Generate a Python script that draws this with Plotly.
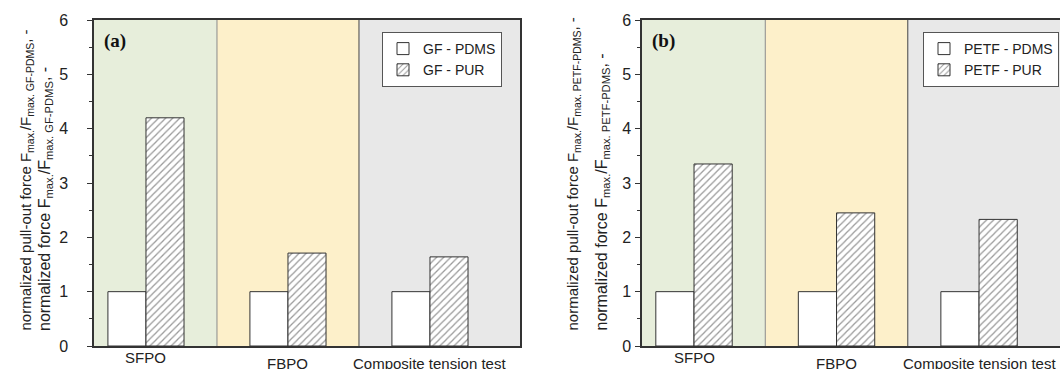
import plotly.graph_objects as go

# Normalized maximum forces, PUR matrix relative to PDMS matrix
categories = ["SFPO", "FBPO", "Composite tension test"]
x_pos = [0, 1, 2]
gf_pdms = [1.0, 1.0, 1.0]
gf_pur = [4.2, 1.71, 1.64]
petf_pdms = [1.0, 1.0, 1.0]
petf_pur = [3.35, 2.45, 2.33]
y_ticks = [0, 1, 2, 3, 4, 5, 6]

W, H = 1060, 369
FONT = "Liberation Sans, Arial, sans-serif"
TXT = "#222222"
BAR_W = 0.268

region_colors = ["#E7EEDB", "#FDF0CA", "#E8E8E8"]
divider_colors = ["#8a8a8a", "#444444"]

fig = go.Figure()


def add_pair(pdms, pur, name_pdms, name_pur, xa, ya, legend):
    fig.add_trace(go.Bar(
        x=x_pos, y=pdms, name=name_pdms, xaxis=xa, yaxis=ya, legend=legend,
        width=BAR_W, offset=-BAR_W,
        marker=dict(color="white", line=dict(color="#333333", width=1)),
    ))
    fig.add_trace(go.Bar(
        x=x_pos, y=pur, name=name_pur, xaxis=xa, yaxis=ya, legend=legend,
        width=BAR_W, offset=0,
        marker=dict(color="white", line=dict(color="#333333", width=1),
                    pattern=dict(shape="/", fgcolor="#333333", bgcolor="white",
                                 size=5, solidity=0.25)),
    ))


add_pair(gf_pdms, gf_pur, "GF - PDMS", "GF - PUR", "x", "y", "legend")
add_pair(petf_pdms, petf_pur, "PETF - PDMS", "PETF - PUR", "x2", "y2", "legend2")

ya_dom = [(H - 346) / H, (H - 20) / H]
xa_range = [-0.366, 2.634]
xb_range = [-0.365, 2.568]

axis_common = dict(showgrid=False, zeroline=False, linecolor="#333333", linewidth=1.5)
yaxis_common = dict(
    range=[0, 6], tickvals=y_ticks, ticks="outside", ticklen=5, tickcolor="#333333",
    tickfont=dict(family=FONT, size=16, color=TXT),
    minor=dict(dtick=0.5, ticks="outside", ticklen=3, tickcolor="#333333"),
    domain=ya_dom, automargin=False, **axis_common,
)

legend_common = dict(xanchor="left", yanchor="top", bgcolor="white",
                     bordercolor="#555555", borderwidth=1,
                     font=dict(family=FONT, size=14, color=TXT), itemwidth=30,
                     tracegroupgap=0)

fig.update_layout(
    width=W, height=H,
    margin=dict(l=0, r=0, t=0, b=0),
    paper_bgcolor="white", plot_bgcolor="white",
    barmode="overlay",
    xaxis=dict(domain=[94 / W, 520 / W], range=xa_range, showticklabels=False,
               showline=True, mirror=True, ticks="", automargin=False, **axis_common),
    yaxis=dict(anchor="x", showline=True, mirror=True, ticklabelstandoff=16, **yaxis_common),
    xaxis2=dict(domain=[642 / W, 1.0], range=xb_range, showticklabels=False, anchor="y2",
                showline=True, mirror=True, ticks="", automargin=False, **axis_common),
    yaxis2=dict(anchor="x2", showline=True, mirror=False, ticklabelstandoff=1, **yaxis_common),
    legend=dict(x=382 / W, y=(H - 32) / H, **legend_common),
    legend2=dict(x=923 / W, y=(H - 32) / H, **legend_common),
    showlegend=True,
)

# Shaded test-type regions and dividers behind the bars
for xa, ya, rng in (("x", "y", xa_range), ("x2", "y2", xb_range)):
    edges = [rng[0], 0.5, 1.5, rng[1]]
    for i, col in enumerate(region_colors):
        fig.add_shape(type="rect", xref=xa, yref=f"{ya} domain", x0=edges[i], x1=edges[i + 1],
                      y0=0, y1=1, fillcolor=col, line=dict(width=0), layer="below")
    for i, col in enumerate(divider_colors):
        fig.add_shape(type="line", xref=xa, yref=f"{ya} domain", x0=edges[i + 1], x1=edges[i + 1],
                      y0=0, y1=1, line=dict(color=col, width=1), layer="below")

# Category labels under each group
label_y = [(H - 357) / H, (H - 363) / H, (H - 363) / H]
for xa in ("x", "x2"):
    for xi, cat, ly in zip(x_pos, categories, label_y):
        fig.add_annotation(x=xi, y=ly, xref=xa, yref="paper", text=cat, showarrow=False,
                           xanchor="center", yanchor="middle",
                           font=dict(family=FONT, size=15, color=TXT))

# Panel letters
for px, letter in ((102, "(a)"), (650, "(b)")):
    fig.add_annotation(x=px / W, y=(H - 41) / H, xref="paper", yref="paper",
                       text=f"<b>{letter}</b>", showarrow=False, xanchor="left", yanchor="middle",
                       font=dict(family="Liberation Serif, Times New Roman, serif", size=19,
                                 color="#111111"))

# Two-line rotated axis titles
titles = [
    (26, 15, "normalized pull-out force F<sub>max.</sub>/F<sub>max. GF-PDMS</sub>, -"),
    (45, 16, "normalized force F<sub>max.</sub>/F<sub>max. GF-PDMS</sub>, -"),
    (573, 15, "normalized pull-out force F<sub>max.</sub>/F<sub>max. PETF-PDMS</sub>, -"),
    (602, 16, "normalized force F<sub>max.</sub>/F<sub>max. PETF-PDMS</sub>, -"),
]
for px, size, txt in titles:
    fig.add_annotation(x=px / W, y=(H - 333) / H, xref="paper", yref="paper", text=txt,
                       showarrow=False, textangle=-90, xanchor="center", yanchor="bottom",
                       font=dict(family=FONT, size=size, color=TXT))

fig.write_html("out.html")
